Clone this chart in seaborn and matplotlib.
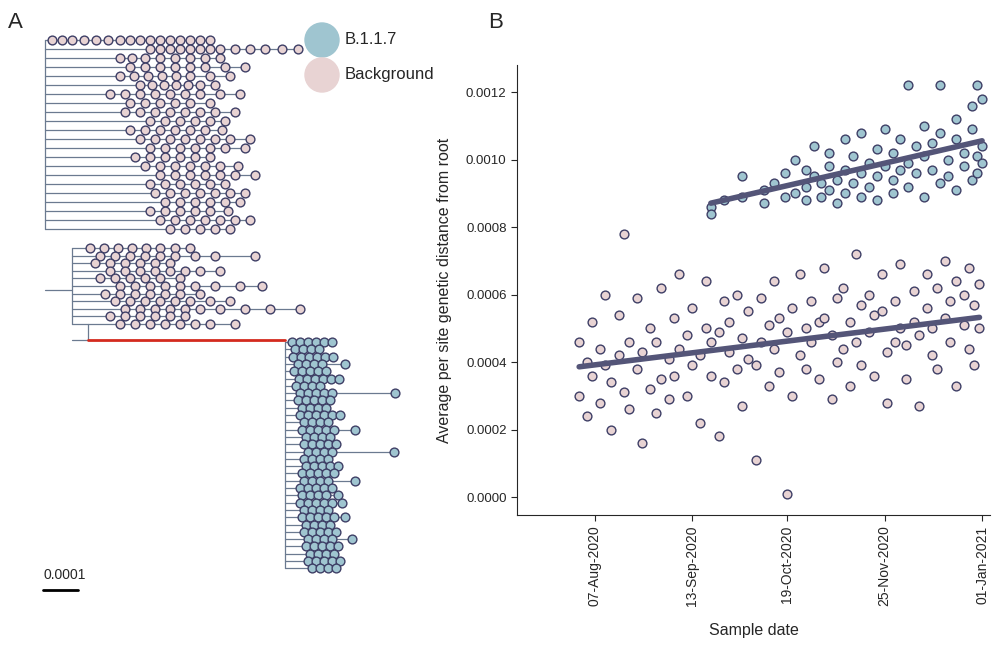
import matplotlib
matplotlib.use("Agg")
import matplotlib.pyplot as plt
import seaborn as sns
import pandas as pd
import numpy as np

sns.set_style("white")
plt.rcParams['font.family'] = ['Liberation Sans', 'DejaVu Sans']

EDGE = "#3e3f66"; BCOL = "#9fc5d0"; BGCOL = "#e8d3d3"; LINE = "#545578"; TREE = "#6b7a90"

# ---------- scatter data (days since 2020-08-01, distance x1e-4) ----------
bg_days = [0,0,3,3,5,5,8,8,10,10,12,12,15,15,17,17,19,19,22,22,24,24,27,27,29,29,31,31,34,34,36,36,38,38,41,41,43,43,46,46,48,48,50,50,53,53,55,55,57,57,60,60,62,62,64,64,67,67,69,69,72,72,74,74,76,76,79,79,81,81,84,84,86,86,88,88,91,91,93,93,96,96,98,98,100,100,103,103,105,105,107,107,110,110,112,112,115,115,117,117,120,120,122,122,124,124,127,127,129,129,132,132,134,134,136,136,139,139,141,141,143,143,146,146,148,148,150,150,152,152]
bg_vals = [3.0,4.6,2.4,4.0,3.6,5.2,2.8,4.4,3.9,6.0,2.0,3.4,4.2,5.4,3.1,7.8,2.6,4.6,3.8,5.9,1.6,4.3,3.2,5.0,4.6,2.5,3.5,6.2,4.1,2.9,5.3,3.6,4.4,6.6,3.0,4.8,5.6,3.9,4.2,2.2,5.0,6.4,3.6,4.6,4.9,1.8,5.8,3.4,4.3,5.2,3.8,6.0,4.7,2.7,5.5,4.1,3.9,1.1,4.6,5.9,5.1,3.3,4.4,6.4,3.7,5.3,4.9,0.1,5.6,3.0,4.2,6.6,5.0,3.8,4.6,5.8,3.5,5.2,5.3,6.8,4.8,2.9,5.9,4.0,4.4,6.2,5.2,3.3,4.6,7.2,5.7,3.9,4.9,6.0,3.6,5.4,5.5,6.6,4.3,2.8,5.8,4.6,5.0,6.9,4.5,3.5,6.1,5.2,4.8,2.7,5.6,6.6,4.2,5.0,6.2,3.8,5.3,7.0,4.6,5.8,6.4,3.3,5.1,6.0,4.4,6.8,5.7,3.9,6.3,5.0]
b_days = [50,50,55,62,62,70,70,74,78,78,82,82,86,86,86,89,89,92,92,95,95,95,98,98,101,101,101,104,104,107,107,107,110,110,113,113,113,116,116,119,119,119,122,122,125,125,125,128,128,131,131,131,134,134,137,137,137,140,140,143,143,143,146,146,149,149,149,151,151,151,153,153,153]
b_vals = [8.6,8.4,8.8,8.9,9.5,9.1,8.7,9.3,8.9,9.6,9.0,10.0,9.2,8.8,9.7,9.5,10.4,8.9,9.3,9.8,9.1,10.2,9.4,8.7,9.7,10.6,9.0,9.3,10.1,9.6,8.9,10.8,9.9,9.2,10.3,9.5,8.8,9.8,10.9,9.4,10.2,9.0,10.6,9.7,9.9,12.2,9.2,10.4,9.6,10.1,8.9,11.0,9.7,10.5,10.8,9.3,12.2,10.0,9.5,10.6,9.1,11.2,10.2,9.8,9.4,10.9,11.6,10.1,9.6,12.2,10.4,9.9,11.8]
tick_days = [6, 43, 79, 116, 153]
tick_labels = ["07-Aug-2020", "13-Sep-2020", "19-Oct-2020", "25-Nov-2020", "01-Jan-2021"]

# ---------- tree data (pixel-like units; 35 units = 0.0001) ----------
bg_group1 = [(48,[52,62,72,84,96,108,120,130,140,150,160,170,180,190,200,210]),
 (50,[150,160,170,180,190,200,210,220,235,250,265,282,298]),
 (52,[120,132,145,160,175,190,205,220]),
 (55,[130,145,160,175,190,205,225,245]),
 (58,[120,134,148,162,176,190,210,230]),
 (62,[140,152,164,176,188,200,215]),
 (65,[110,125,140,155,170,185,200,220,240]),
 (68,[130,145,160,175,190,210]),
 (100,[125,140,155,170,185,200,215,235]),
 (105,[150,165,180,195,210,225]),
 (110,[130,145,160,175,190,205,222]),
 (115,[140,155,170,185,200,215,230,250]),
 (120,[150,165,180,195,210,225,245]),
 (125,[135,150,165,180,195,210]),
 (128,[145,160,175,190,205,220,238]),
 (130,[160,175,190,205,220,235,255]),
 (132,[150,165,180,195,210,225]),
 (135,[155,170,185,200,215,230,245]),
 (138,[165,180,195,210,225,240]),
 (140,[150,165,180,195,210,228]),
 (142,[160,175,190,205,220,235,250]),
 (145,[170,185,200,215,230])]
bg_group2 = [(74,[90,104,118,132,146,160,175,190]),
 (76,[100,115,130,145,160,175,195,215,255]),
 (78,[95,110,125,140,155,170]),
 (80,[110,125,140,155,170,185,200,220]),
 (82,[100,115,130,145,160,180]),
 (84,[120,135,150,165,180,195,215,240,262]),
 (86,[105,120,135,150,165,180,200]),
 (88,[115,130,145,160,175,190,210,230]),
 (90,[125,140,155,170,185,200,220,245,270,300]),
 (92,[110,125,140,155,170,185]),
 (94,[120,135,150,165,180,195,210,235])]
b_group = [(287,[292,300,308,316,324,332]),(288,[295,303,311,319]),(289,[293,301,309,317,325,333]),
 (290,[298,306,314,322,345]),(291,[294,302,310,318,326]),(292,[299,307,315,323,331,339]),
 (293,[296,304,312,320]),(294,[300,308,316,324,332,395]),(295,[298,306,314,322,330]),
 (296,[302,310,318,326]),(297,[300,308,316,324,332,340]),(298,[304,312,320,328]),
 (299,[302,310,318,326,334,355]),(300,[306,314,322,330]),(301,[304,312,320,328,336]),
 (302,[308,316,324,332,394]),(301,[304,312,320,328]),(300,[306,314,322,330,338]),
 (299,[302,310,318,326,334]),(298,[304,312,320,328,355]),(297,[300,308,316,324,332]),
 (296,[302,310,318,326,338]),(297,[300,308,316,324,332,342]),(298,[304,312,320,328]),
 (299,[302,310,318,326,334,345]),(300,[306,314,322,330]),(301,[304,312,320,328,336]),
 (302,[308,316,324,332,352]),(303,[306,314,322,330,338]),(304,[310,318,326,334]),
 (305,[308,316,324,332,340]),(306,[312,320,328,336])]

fig = plt.figure(figsize=(10, 6.48), dpi=100)

# ---------- Panel A ----------
axA = fig.add_axes([0, 0, 0.47, 1])
axA.set_xlim(0, 470); axA.set_ylim(648, 0); axA.axis("off")

def draw_rows(rows, y0, dy, vx, col, lw=0.9):
    ys = [y0 + i*dy for i in range(len(rows))]
    axA.plot([vx, vx], [ys[0], ys[-1]], color=TREE, lw=lw, zorder=1)
    for (node, tips), y in zip(rows, ys):
        axA.plot([vx, max(tips)], [y, y], color=TREE, lw=lw, zorder=1)
        axA.scatter(tips, [y]*len(tips), s=40, color=col, edgecolor=EDGE, linewidth=1, zorder=3)
    return ys

ys1 = draw_rows(bg_group1, 40, 9.0, 45, BGCOL)
ys2 = draw_rows(bg_group2, 248, 7.6, 72, BGCOL)
axA.plot([45, 72], [290, 290], color=TREE, lw=0.9)
axA.plot([72, 88], [340, 340], color=TREE, lw=0.9)
axA.plot([88, 88], [ys2[-1], 340], color=TREE, lw=0.9)
axA.plot([88, 285], [340, 340], color="#d42a1e", lw=2, zorder=2)
draw_rows(b_group, 342, 7.3, 285, BCOL)
axA.plot([43, 78], [590, 590], color="black", lw=2)
axA.text(43, 582, "0.0001", fontsize=10, ha="left", va="bottom")
axA.scatter([322, 322], [40, 75], s=600, color=[BCOL, BGCOL], zorder=3)
axA.text(345, 40, "B.1.1.7", fontsize=12, va="center")
axA.text(345, 75, "Background", fontsize=12, va="center")
fig.text(0.008, 0.965, "A", fontsize=16, va="center")
fig.text(0.488, 0.965, "B", fontsize=16, va="center")

# ---------- Panel B ----------
axB = fig.add_axes([0.517, 1-515/648, 0.473, 450/648])
bg = pd.DataFrame({"day": bg_days, "dist": np.array(bg_vals)*1e-4})
bb = pd.DataFrame({"day": b_days, "dist": np.array(b_vals)*1e-4})
axB.scatter(bg["day"], bg["dist"], s=40, color=BGCOL, edgecolor=EDGE, linewidth=1, zorder=2)
axB.scatter(bb["day"], bb["dist"], s=40, color=BCOL, edgecolor=EDGE, linewidth=1, zorder=2)
sns.regplot(data=bg, x="day", y="dist", scatter=False, ci=None, ax=axB, line_kws=dict(color=LINE, lw=4, zorder=3), truncate=True)
sns.regplot(data=bb, x="day", y="dist", scatter=False, ci=None, ax=axB, line_kws=dict(color=LINE, lw=4, zorder=3), truncate=True)
axB.set_xlim(-23.6, 156)
axB.set_ylim(-0.0000533, 0.00128)
axB.set_xticks(tick_days)
axB.set_xticklabels(tick_labels, rotation=90, fontsize=10)
axB.set_yticks([0, 0.0002, 0.0004, 0.0006, 0.0008, 0.0010, 0.0012])
axB.set_yticklabels(["0.0000","0.0002","0.0004","0.0006","0.0008","0.0010","0.0012"], fontsize=9.5)
axB.tick_params(axis="both", length=4, bottom=True, left=True)
sns.despine(ax=axB)
axB.set_xlabel("Sample date", fontsize=11.5, labelpad=12)
axB.set_ylabel("Average per site genetic distance from root", fontsize=11.5, labelpad=10)

fig.savefig("out.png", dpi=100)
